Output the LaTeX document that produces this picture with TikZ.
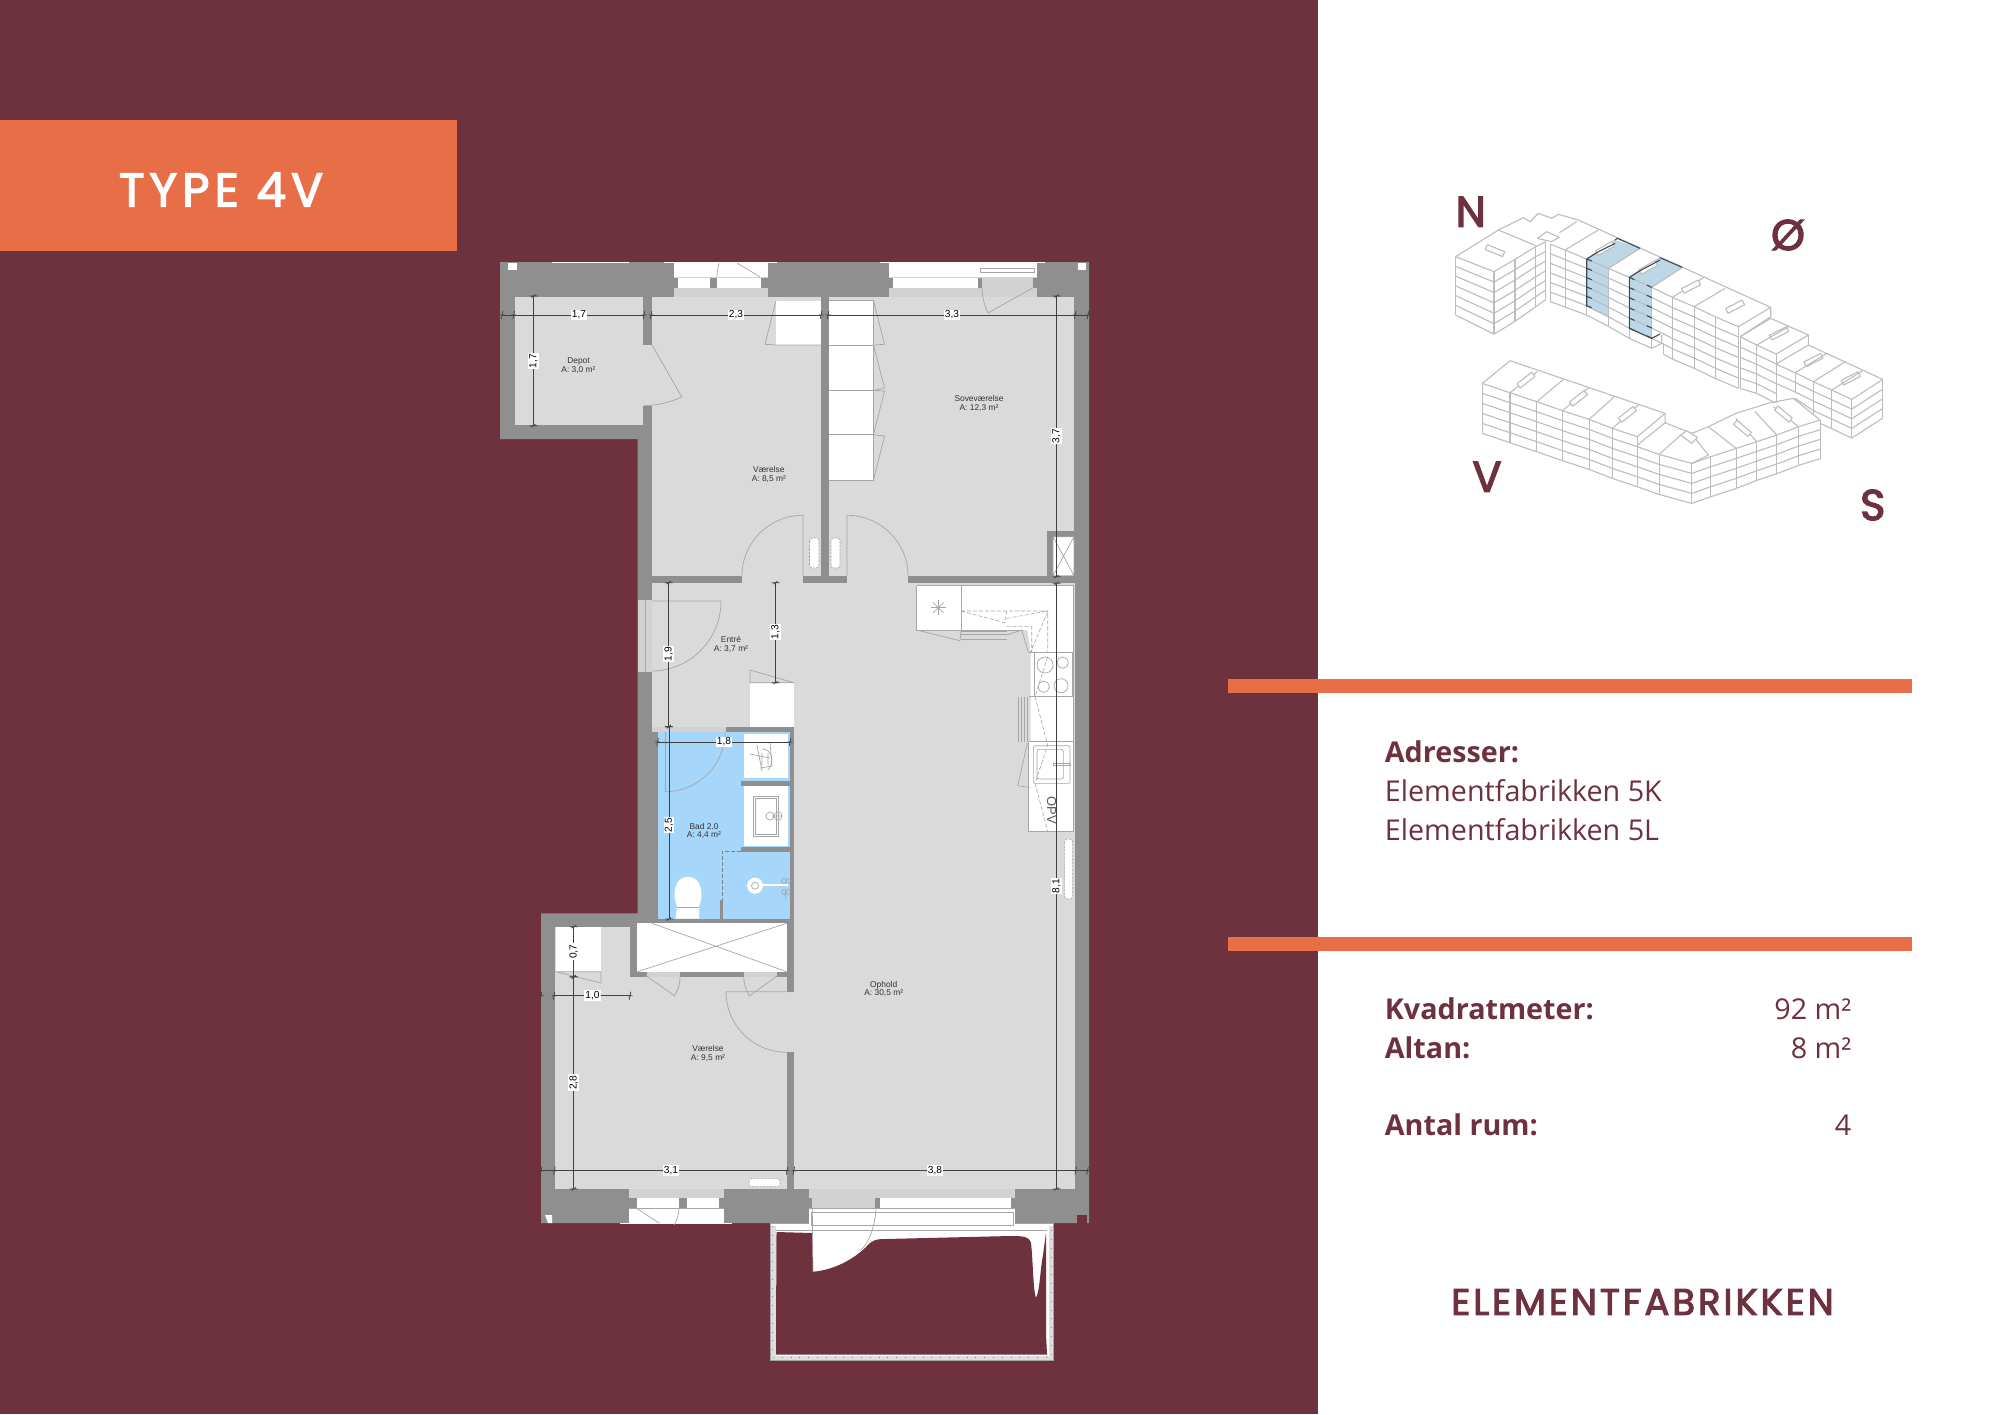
\documentclass[tikz,border=0pt]{standalone}
\usepackage{fontspec}
\usetikzlibrary{calc}
\setmainfont{Open Sans}
\newfontfamily\planfont{Liberation Sans}
\newfontfamily\logofont[FakeBold=3,LetterSpace=8]{Poppins}
\newfontfamily\titlefont[FakeBold=3,LetterSpace=11]{Poppins}
\newfontfamily\compassfont[FakeBold=3]{Poppins}
\definecolor{maroon}{HTML}{6E313E}
\definecolor{orangeb}{HTML}{E86E47}
\definecolor{wallg}{HTML}{8F8F8F}
\definecolor{floorg}{HTML}{DADADA}
\definecolor{lightg}{HTML}{D2D2D2}
\definecolor{lineg}{HTML}{A6A6A6}
\definecolor{dimc}{HTML}{404040}
\definecolor{bathb}{HTML}{A6D7FB}
\definecolor{bldg}{HTML}{BDBDBD}
\definecolor{blockb}{HTML}{BCD7E6}
\definecolor{blockd}{HTML}{3C4A55}
\tikzset{
  fin/.style={draw=lineg,line width=0.35pt},
  dimline/.style={draw=dimc,line width=0.45pt},
  dimlab/.style={fill=white,inner sep=0.6pt,text=black,font=\planfont\fontsize{5.1}{5.2}\selectfont},
  roomlab/.style={inner sep=0,align=center,text=black!80,font=\planfont\fontsize{4.2}{4.4}\selectfont},
  radi/.style={fill=white,draw=lineg,dashed,dash pattern=on 1.2pt off 0.6pt,line width=0.3pt,rounded corners=1.5pt},
  bld/.style={draw=bldg,line width=0.55pt,line join=round},
  dk/.style={draw=blockd,line width=0.55pt},
  kdash/.style={draw=lineg,line width=0.3pt,dash pattern=on 2pt off 1pt},
  infot/.style={inner sep=0,anchor=base west,text=maroon,font=\fontsize{14.35}{16}\selectfont},
  infob/.style={infot,font=\bfseries\fontsize{14.35}{16}\selectfont},
  infor/.style={inner sep=0,anchor=base east,text=maroon,font=\fontsize{14.35}{16}\selectfont},
  compass/.style={inner sep=0,text=maroon,font=\compassfont\fontsize{21.5}{22}\selectfont},
}
\newcommand\qarc[6]{(#3,#4) .. controls ($(#3,#4)+0.552*(#5,#6)-0.552*(#1,#2)$) and ($(#5,#6)+0.552*(#3,#4)-0.552*(#1,#2)$) .. (#5,#6)}
\newcommand\tickH[2]{\draw[dimline,line width=0.35pt] (#1-0.8,#2+4) -- (#1+0.8,#2-4) (#1-2.5,#2) -- (#1+2.5,#2);}
\newcommand\tickV[2]{\draw[dimline,line width=0.35pt] (#1-4,#2) -- (#1+4,#2) (#1-2,#2+1.5) -- (#1+2,#2-1.5);}
% name, y, x1, x2, label x, text
\newcommand\dimH[6]{\draw[dimline] (#3,#2) -- (#4,#2); \tickH{#3}{#2}\tickH{#4}{#2}
  \node[dimlab] (#1) at (#5,#2) {#6};}
% name, x, y1, y2, label y, text
\newcommand\dimV[6]{\draw[dimline] (#2,#3) -- (#2,#4); \tickV{#2}{#3}\tickV{#2}{#4}
  \node[dimlab,rotate=90] (#1) at (#2,#5) {#6};}
% x1 y1 h1 x2 y2 h2 n
\newcommand\floors[7]{\foreach \i in {0,...,#7}{\draw[bld] (#1,{#2+\i*#3}) -- (#4,{#5+\i*#6});}}
\newcommand\vv[3]{\draw[bld] (#1,#2) -- (#1,#3);}
\newcommand\hatch[3]{\draw[bld,fill=white,shift={(#1,#2)},rotate=#3] (-28,-8) rectangle (28,8);}
\begin{document}
\begin{tikzpicture}[x=0.5pt,y=-0.5pt]
\useasboundingbox (0,0) rectangle (2000,1414);
\fill[maroon] (0,0) rectangle (1318,1414);
\fill[white] (1318,0) rectangle (2000,1414);
\fill[orangeb] (0,120) rectangle (457,251);
\node[inner sep=0,text=white,font=\titlefont\fontsize{23.5}{24}\selectfont] (title) at (221,189.5) {TYPE 4V};
\fill[orangeb] (1228,679) rectangle (1912,692.7);
\fill[orangeb] (1228,936.7) rectangle (1912,950.7);

% ---------- walls and floors
\fill[wallg] (500,262) -- (1089,262) -- (1089,1223) -- (541,1223) -- (541,913.3) -- (637.5,913.3) -- (637.5,439) -- (500,439) -- cycle;
\fill[white] (508,263) rectangle (517,270);
\fill[white] (1078,263) rectangle (1086,270);
\fill[white] (545,1215) -- (552,1215) -- (552,1223) -- (548,1223) -- cycle;
\fill[maroon] (1077,1215) rectangle (1087,1224);
\fill[white] (552,261.5) rectangle (629,263);
\fill[floorg] (515,296.7) rectangle (643.4,425.3);
\fill[floorg] (652,296.7) rectangle (821,575.7);
\fill[floorg] (829,296.7) rectangle (1074.4,575.7);
\fill[floorg] (643,345) rectangle (652,405.7);
\fill[floorg] (742,575) rectangle (803,584);
\fill[floorg] (847,575) rectangle (908,584);
\fill[floorg] (652,583.3) rectangle (1074.6,1189);
\fill[floorg] (555,927.3) rectangle (786.7,1189);
\fill[wallg] (1047,531) rectangle (1074.4,583.3);
\fill[white] (1053,536.7) rectangle (1074,575.7);
\draw[fin] (1053,536.7) rectangle (1074,575.7) (1053,536.7) -- (1074,575.7) (1074,536.7) -- (1053,575.7);

% top windows
\fill[white] (664,261.5) rectangle (777,263);
\fill[white] (880,261.5) rectangle (1045,263);
\fill[white] (673.5,263) rectangle (768,276.7);
\fill[lightg] (673.5,276.7) rectangle (768,296.7);
\fill[wallg] (673.5,277.5) rectangle (768,287.7);
\fill[white] (678,277.5) rectangle (709.5,287.7);
\fill[white] (717.4,277.5) rectangle (761,287.7);
\fill[white] (889,263) rectangle (1037,276.7);
\fill[lightg] (889,276.7) rectangle (1037,296.7);
\fill[wallg] (889,277.5) rectangle (982,287.7);
\fill[wallg] (1033,277.5) rectangle (1037,287.7);
\fill[white] (893,277.5) rectangle (977.5,287.7);
\draw[fin] (980,268) rectangle (1034,272);
\draw[fin] (1033,287.7) -- (988,313);
\draw[fin] (988,313) .. controls (984,305) and (982,296) .. (982,287.7);
\draw[fin] (737,263) -- (759.7,276.7);
\draw[fin] (719,263) .. controls (718,268) and (717,272) .. (717,277);

% bottom windows
\fill[white] (620,1222.5) rectangle (731.6,1224);
\fill[lightg] (629,1189) rectangle (723.5,1198.3);
\fill[wallg] (629,1198.3) rectangle (723.5,1208.3);
\fill[white] (636.5,1198.3) rectangle (679,1208.3);
\fill[white] (687,1198.3) rectangle (719.4,1208.3);
\fill[white] (629,1208.3) rectangle (723.5,1222.7);
\draw[fin] (629,1208.3) -- (723.5,1208.3);
\draw[fin] (636.5,1208.3) -- (659.5,1223.3);
\draw[fin] (679,1208.3) .. controls (679,1214) and (677,1220) .. (674,1225);
\fill[lightg] (808.6,1189) rectangle (1014.6,1208.3);
\fill[wallg] (808.6,1198.3) rectangle (812.3,1208.3);
\fill[wallg] (875,1198.3) rectangle (879.6,1208.3);
\fill[wallg] (1011,1198.3) rectangle (1014.6,1208.3);
\fill[white] (879.6,1198.3) rectangle (1011,1208.3);

% balcony
\fill[white,rounded corners=1pt] (770.5,1223) rectangle (1053.5,1360);
\fill[black!13] (770.5,1226) rectangle (775.5,1360);
\fill[black!13] (1048.5,1226) rectangle (1053.5,1360);
\fill[black!13] (770.5,1355.5) rectangle (1053.5,1360);
\draw[black!50,line width=0.7pt,dash pattern=on 0.4pt off 4pt] (772.7,1226) -- (772.7,1357.7) -- (1051.2,1357.7) -- (1051.2,1226);
\draw[lineg,line width=0.3pt] (770.5,1223) rectangle (1053.5,1360);
\fill[maroon] (776.5,1232) -- (812.3,1233) -- (813,1271.7) .. controls (835,1270) and (855,1258) .. (866,1247) .. controls (872,1240) and (876,1239) .. (885,1239) -- (1010,1236) .. controls (1022,1236) and (1029,1236) .. (1031,1243) .. controls (1033,1260) and (1033,1290) .. (1036,1298) .. controls (1040,1290) and (1040,1270) .. (1043,1255) -- (1046,1233) -- (1046,1334) -- (1047,1354.5) -- (776,1354.5) -- (776,1334) -- cycle;
\fill[white] (808.6,1208.3) rectangle (1014.6,1225);
\draw[fin] (808.6,1208.3) -- (1014.6,1208.3);
\draw[fin] (811,1212.3) rectangle (1013,1225);
\draw[fin] (776,1230.7) -- (1047,1230.7);
\draw[fin] (812.3,1208.3) -- (813,1271.7);
\draw[fin] (876,1208.3) .. controls (875,1225) and (870,1242) .. (860,1251);

% ---------- bathroom block
\fill[wallg] (652,726.7) rectangle (793.8,925);
\fill[lightg] (652,726.7) rectangle (726,732);
\fill[bathb] (658.4,732) rectangle (789.7,918.7);
\fill[white] (743.5,734) rectangle (788,778.3);
\fill[wallg] (741,780.7) rectangle (789.7,786);
\fill[white] (743.5,786) rectangle (788,846);
\fill[wallg] (741,846.7) rectangle (789.7,851.7);
\draw[fin] (753.5,796) rectangle (778.6,836) (755.5,798) rectangle (776.6,834);
\draw[fin] (770,816) circle (2pt) (778,816) circle (2pt) (772,816) -- (782,816);
\draw[fin] (750,754) -- (770,758) (757,745) -- (762,771) (770,743) -- (772,766) -- (760,768) (762,753) -- (762,765) (768,753) -- (768,765);
\draw[fin] (762,749) .. controls (772,749) and (775,762) .. (768,770);
\fill[wallg] (720,900) rectangle (723,918.7);
\draw[draw=black!50,line width=0.3pt,dash pattern=on 2pt off 1pt] (741,851) -- (722.4,851) -- (722.4,900);
\fill[white] (675.5,918.7) -- (677,906) .. controls (672,895) and (674,877) .. (688,876.7) .. controls (702,877) and (704,895) .. (699,906) -- (699,918.7) -- cycle;
\draw[fin] (677,907) -- (699,907);
\fill[white] (755,885.7) circle (8);
\fill[white] (755,883.5) rectangle (788,886);
\draw[fin] (755,885.7) circle (3.5);
\draw[fin] (784,881) circle (1.2pt) (788,881) circle (1.2pt) (784,892) circle (1.2pt) (788,892) circle (1.2pt) (785,892) -- (786,900);
\draw[fin] \qarc{665.4}{732}{665.4}{791.7}{725}{732};
\draw[fin] (665.4,732) -- (665.4,791.7);

% closet
\fill[wallg] (629.5,927) rectangle (637.3,977);
\fill[wallg] (629.5,971.7) rectangle (793.8,977);
\fill[wallg] (786.7,923) rectangle (793.8,991.7);
\fill[wallg] (637,918.7) rectangle (790,923.3);
\fill[white] (637.3,923.3) rectangle (786.7,971.7);
\draw[fin] (652,923.3) -- (786.7,971.7) (786.7,923.3) -- (637.3,971.7);
\fill[lightg] (646.5,971.7) rectangle (680,977);
\fill[lightg] (743.8,971.7) rectangle (777,977);
\draw[fin] (646.5,976) -- (674.3,995.7) (680,977) .. controls (680,985) and (678,990) .. (674.3,995.7);
\draw[fin] (777,976) -- (749.4,996) (743.8,977) .. controls (744,985) and (746,990) .. (749.4,996);
\fill[wallg] (786.7,1052.3) rectangle (793.8,1189);

% wall corner cupboard, lower room
\fill[white] (556,927.3) rectangle (601,971.7);
\draw[fin] (556,971.7) -- (601,983) -- (601,971.7) -- cycle;

% wardrobes
\fill[white] (776,300.7) rectangle (821,345);
\draw[fin] (776,300.7) -- (765,344.3) -- (776,345) -- (821,345);
\fill[white] (829,300.7) rectangle (873.5,480);
\draw[fin] (829,345) -- (873.5,345) (829,390.5) -- (873.5,390.5) (829,434.8) -- (873.5,434.8) (829,480) -- (873.5,480) -- (873.5,300.7) -- (829,300.7);
\draw[fin] (873.5,300.7) -- (884.5,344.3) -- (873.5,345) -- (884.5,388) -- (873.5,390.5) -- (884.5,391) -- (873.5,434.8) -- (884.5,436) -- (873.5,480);
\fill[white] (750,682.7) rectangle (793.7,726.7);
\draw[fin] (750,682.7) -- (750,670) -- (793.7,682.7) -- cycle;

% radiators
\draw[radi] (809.5,538) rectangle (819,568);
\draw[radi] (831,538) rectangle (840,568);
\draw[radi] (1064.6,839) rectangle (1072.7,899);
\draw[radi] (749,1178.3) rectangle (780,1186.7);

% door leaves
\draw[fin] (652,345) -- (681.8,397) .. controls (671,402) and (657,405.7) .. (643.4,405.7);
\draw[fin] (803,575.7) -- (803,515.3) \qarc{803}{575.7}{803}{515.3}{742}{575.7};
\draw[fin] (847,575.7) -- (847,515.3) \qarc{847}{575.7}{847}{515.3}{908}{575.7};
\fill[lightg] (637.5,600) rectangle (652,671.7);
\draw[fin] (645,600) -- (645,671.7);
\draw[fin] (651.7,601) -- (721,601) \qarc{651.7}{601}{721}{601}{651.7}{671};
\draw[fin] (786.7,991.7) -- (726,991.7) \qarc{786.7}{991.7}{726}{991.7}{786.7}{1052.3};

% ---------- kitchen (coordinates of a 3x crop)
\begin{scope}[shift={(910,575)},x=0.1667pt,y=-0.1667pt]
\fill[white] (20,32) -- (490,32) -- (490,768) -- (356,768) -- (356,500) -- (362,500) -- (362,232) -- (352,165) -- (20,165) -- cycle;
\draw[fin] (20,32) -- (490,32) -- (490,768) -- (356,768) -- (356,500) (20,32) -- (20,165) -- (153,165) -- (153,32) (153,165) -- (340,165);
\draw[kdash] (153,108) -- (413,108) -- (413,230) (153,108) -- (285,143) -- (290,108) (290,130) -- (413,108) (290,155) -- (365,155) -- (365,232) (413,110) -- (362,230) (413,245) -- (375,365) -- (413,510) -- (375,625) -- (413,768);
\draw[fin] (372,232) rectangle (488,365) (356,232) -- (490,232) (356,365) -- (490,365) (356,500) -- (490,500);
\draw[fin] (405,270) circle (24) (458,263) circle (17) (401,335) circle (17) (453,332) circle (21);
\draw[fin,rounded corners=1pt] (370,512) rectangle (480,625) (381,523) rectangle (460,612);
\draw[fin] (430,564) rectangle (480,572);
\draw[fin] (352,505) -- (323,632) -- (360,637);
\foreach \k in {325,334,343,352}{\draw[fin] (\k,367) -- (\k,500);}
\foreach \k in {170,179,192}{\draw[fin] (153,\k) -- (290,\k);}
\draw[fin] (20,165) -- (150,197) -- (153,165);
\draw[fin] (290,180) -- (335,165) -- (355,232);
\foreach \a in {0,45,90,135}{\draw[fin,shift={(85,98)},rotate=\a] (-22,0) -- (22,0);}
\node[rotate=-90,inner sep=0,text=black!65,font=\planfont\fontsize{6.5}{7}\selectfont] (opv) at (425,705) {OPV};
\end{scope}

% ---------- dimensions
\dimH{d17h}{315}{513.7}{644}{579}{1,7}
\dimH{d23}{315}{651}{821}{736}{2,3}
\dimH{d33}{315}{828}{1075}{952}{3,3}
\draw[dimline] (502,315) -- (513.7,315) (1075,315) -- (1088,315);
\tickH{502}{315}\tickH{1088}{315}
\dimV{d17v}{533.5}{296}{425.7}{361}{1,7}
\dimV{d37}{1056.5}{296}{576.7}{436}{3,7}
\dimV{d81}{1056.5}{583.3}{1189}{886}{8,1}
\dimV{d19}{668.7}{582.7}{726.7}{654}{1,9}
\dimV{d13}{775.5}{582.7}{682.7}{632}{1,3}
\dimV{d25}{669}{726.7}{919}{825}{2,5}
\dimH{d18}{742}{657.6}{790}{724}{1,8}
\dimV{d07}{573.7}{926.7}{976.7}{951.7}{0,7}
\dimH{d10}{995.7}{554}{630}{592.5}{1,0}
\tickH{541}{995.7}
\dimV{d28}{573.7}{977}{1189}{1082.7}{2,8}
\dimH{d31}{1170.7}{554.4}{787}{671}{3,1}
\dimH{d38}{1170.7}{793.8}{1075.7}{935}{3,8}
\draw[dimline] (541,1170.7) -- (554.4,1170.7) (1075.7,1170.7) -- (1087.5,1170.7);
\tickH{541}{1170.7}\tickH{1087.5}{1170.7}

% room labels
\node[roomlab] (depot) at (578.5,365.5) {Depot\\A: 3,0 m²};
\node[roomlab] (vaer1) at (768.8,474.5) {Værelse\\A: 8,5 m²};
\node[roomlab] (sove) at (979,403.5) {Soveværelse\\A: 12,3 m²};
\node[roomlab] (entre) at (731,644.5) {Entré\\A: 3,7 m²};
\node[roomlab] (bad) at (704,831) {Bad 2.0\\A: 4,4 m²};
\node[roomlab] (ophold) at (883.7,989) {Ophold\\A: 30,5 m²};
\node[roomlab] (vaer2) at (708,1053.5) {Værelse\\A: 9,5 m²};

% ---------- info panel
\node[infob] (adr) at (1384.5,762) {Adresser:};
\node[infot] (a5k) at (1384.5,801.3) {Elementfabrikken 5K};
\node[infot] (a5l) at (1384.5,840.6) {Elementfabrikken 5L};
\node[infob] (kvm) at (1384.5,1019) {Kvadratmeter:};
\node[infob] (alt) at (1384.5,1058) {Altan:};
\node[infob] (rum) at (1384.5,1135.7) {Antal rum:};
\node[infor] (v92) at (1851.7,1019) {92 m²};
\node[infor] (v8) at (1851.7,1058) {8 m²};
\node[infor] (v4) at (1851.7,1135.7) {4};
\node[inner sep=0,text=maroon,font=\logofont\fontsize{18.5}{20}\selectfont] (logo) at (1642.5,1302) {ELEMENTFABRIKKEN};

% ---------- compass
\node[compass] (cn) at (1470.8,211.7) {N};
\node[compass] (co) at (1788,235) {Ø};
\node[compass] (cv) at (1487,476.7) {V};
\node[compass] (cs) at (1872.7,505) {S};

% ---------- axonometric building (coordinates of a 3x crop)
\begin{scope}[shift={(1430,180)},x=0.1667pt,y=-0.1667pt]
\fill[blockb] (470,237) -- (555,180) -- (630,205) -- (535,265) -- (535,413) -- (470,380) -- cycle;
\fill[blockb] (598,292) -- (690,233) -- (757,262) -- (665,322) -- (665,475) -- (598,445) -- cycle;
% north wing
\floors{77}{230}{29.2}{192}{275}{31.2}{6}
\floors{192}{275}{31.2}{255}{238}{31}{6}
\floors{255}{238}{31}{317}{200}{30}{6}
\floors{317}{200}{30}{347}{185}{29}{6}
\foreach \x/\y/\z in {77/230/405,192/275/462,255/238/424,317/200/380,347/185/359,360/192/365,405/210/381,470/237/405,535/265/439,598/292/475,665/322/505,700/490/522,727/352/537,792/380/565,855/410/595,925/440/625,930/470/625,980/495/640,1038/522/670,1095/578/640,1150/605/720,1205/630/745,1265/658/775,1358/598/715}{\vv{\x}{\y}{\z}}
\floors{360}{192}{28.8}{405}{210}{28.5}{6}
\floors{405}{210}{28.5}{470}{237}{28}{6}
\floors{470}{237}{28}{535}{265}{29}{6}
\floors{535}{265}{29}{598}{292}{30.5}{6}
\floors{598}{292}{30.5}{665}{322}{30.5}{6}
\floors{665}{322}{30.5}{727}{352}{30.8}{5}
\draw[bld] (700,522) -- (727,537);
\draw[bld] (665,505) -- (695,490) -- (695,465);
\floors{727}{352}{30.8}{792}{380}{30.8}{6}
\floors{792}{380}{30.8}{855}{410}{30.8}{6}
\floors{855}{410}{30.8}{925}{440}{30.8}{6}
% roof north
\draw[bld] (77,230) -- (205,150) -- (280,113) -- (300,125) -- (325,100) -- (365,115) -- (385,103) -- (445,120) -- (1022,382) -- (1022,410) -- (930,470);
\draw[bld] (205,150) -- (317,197);
\draw[bld] (925,440) -- (1022,382);
\draw[bld] (405,210) -- (505,150) (470,237) -- (555,180) (535,265) -- (630,205) (598,292) -- (690,233) (665,322) -- (757,262) (727,352) -- (822,292) (792,380) -- (885,325);
\draw[bld] (322,175) -- (350,155) -- (388,172) -- (365,185) -- cycle (388,158) -- (440,125);
\hatch{195}{212}{-22}
\hatch{525}{205}{30}
\hatch{655}{262}{30}
\hatch{783}{320}{27}
\hatch{915}{380}{27}
\hatch{1047}{460}{27}
\hatch{1150}{540}{27}
\hatch{1262}{595}{27}
% east wing
\floors{930}{470}{31}{980}{495}{29}{5}
\floors{980}{495}{29}{1038}{522}{29.6}{5}
\draw[bld] (930,470) -- (1022,415) -- (1135,465) -- (1038,522) (980,495) -- (1075,440) (1135,465) -- (1135,495);
\floors{1038}{552}{29}{1095}{578}{29}{2}
\floors{1095}{578}{29}{1150}{605}{29}{2}
\floors{1150}{605}{29}{1205}{630}{29}{4}
\floors{1205}{630}{29}{1265}{658}{29}{4}
\floors{1265}{658}{29}{1358}{598}{29}{4}
\draw[bld] (1038,552) -- (1135,495) -- (1358,598) (1095,578) -- (1190,520) (1150,605) -- (1245,545) (1205,630) -- (1300,570);
\draw[bld] (1095,655) -- (1150,692) (1090,660) -- (1150,720);
% south wing
\fill[white] (157,610) -- (240,542) -- (705,700) -- (705,728) -- (785,760) -- (917,700) -- (1090,655) -- (1170,720) -- (1170,835) -- (785,970) -- (157,760) -- cycle;
\floors{157}{610}{30}{240}{638}{30}{5}
\floors{240}{638}{30}{320}{665}{30}{5}
\floors{320}{665}{30}{398}{692}{30}{5}
\floors{398}{692}{30}{477}{718}{30}{5}
\floors{477}{718}{30}{547}{745}{30}{5}
\floors{547}{745}{30}{622}{770}{30}{5}
\floors{622}{800}{30}{687}{823}{30}{4}
\floors{687}{823}{30}{785}{850}{30}{4}
\floors{785}{850}{30}{842}{830}{30}{4}
\floors{842}{830}{30}{918}{805}{30}{4}
\floors{918}{805}{30}{980}{785}{29}{4}
\floors{980}{785}{29}{1040}{765}{29}{4}
\floors{1040}{765}{29}{1105}{740}{29}{4}
\floors{1105}{740}{29}{1170}{720}{29}{4}
\foreach \x/\y/\z in {157/610/760,240/638/788,320/665/815,398/692/842,477/718/868,547/745/895,622/770/920,687/823/943,785/850/970,842/830/950,918/805/925,980/785/901,1040/765/881,1105/740/856,1170/720/836}{\vv{\x}{\y}{\z}}
\draw[bld] (157,610) -- (240,542) -- (705,700) -- (622,770);
\draw[bld] (240,638) -- (322,575) (320,665) -- (400,598) (398,692) -- (477,622) (477,718) -- (555,648) (547,745) -- (625,675);
\hatch{288}{600}{38}
\hatch{445}{655}{38}
\hatch{592}{703}{38}
\draw[bld] (705,700) -- (705,728) -- (785,760) -- (835,740) -- (917,700) -- (1020,668) -- (1090,655) -- (1170,720);
\draw[bld] (622,795) -- (705,728) (687,823) -- (752,765) (785,850) -- (835,825) -- (785,762);
\draw[bld] (835,740) -- (918,805) (917,715) -- (980,785) (975,695) -- (1040,765) (1030,680) -- (1105,740);
\draw[bld,fill=white] (752,765) -- (770,752) -- (802,772) -- (785,790) -- cycle;
\hatch{937}{745}{-40}
\hatch{1060}{702}{-40}
% dark outlines of the two units
\draw[dk] (470,237) -- (470,380) (470,237) -- (505,215) (555,180) -- (562,175) -- (630,205);
\draw[dk] (505,215) -- (555,190);
\draw[dk] (598,292) -- (598,445) -- (665,475) -- (690,462) (598,292) -- (630,272) (690,233) -- (757,262) (630,272) -- (690,240);
\foreach \k in {0,...,5}{\draw[dk] (470,{237+\k*28}) -- (485,{243+\k*28}) (598,{292+\k*30.5}) -- (613,{299+\k*30.5}) (650,{315+\k*30.5}) -- (665,{322+\k*30.5});}
\end{scope}
\end{tikzpicture}
\end{document}
